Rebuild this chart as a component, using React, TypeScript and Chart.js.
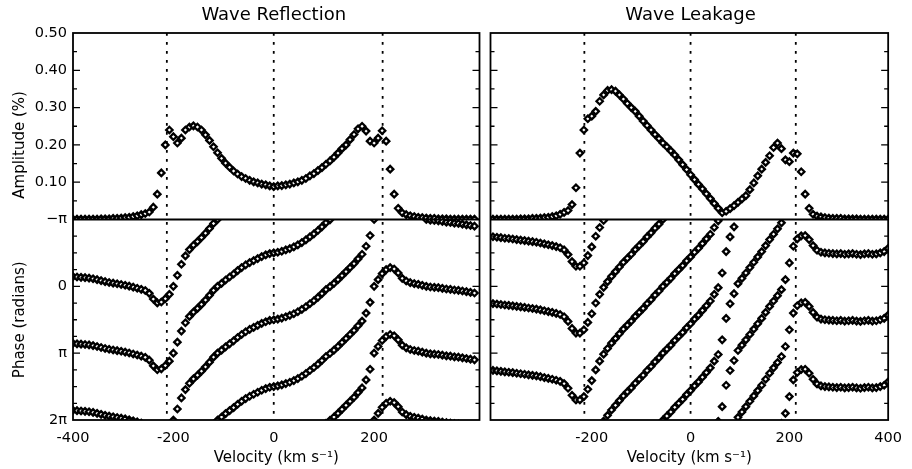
import React, { useEffect, useRef } from 'react';
import { Chart, registerables } from 'chart.js';

Chart.register(...registerables);

// Velocity samples (km/s)
const velocity = [
  -400, -392, -384, -376, -368, -360, -352, -344, -336, -328,
  -320, -312, -304, -296, -288, -280, -272, -264, -256, -248,
  -240, -232, -224, -216, -208, -200, -192, -184, -176, -168,
  -160, -152, -144, -136, -128, -120, -112, -104, -96, -88,
  -80, -72, -64, -56, -48, -40, -32, -24, -16, -8,
  0, 8, 16, 24, 32, 40, 48, 56, 64, 72,
  80, 88, 96, 104, 112, 120, 128, 136, 144, 152,
  160, 168, 176, 184, 192, 200, 208, 216, 224, 232,
  240, 248, 256, 264, 272, 280, 288, 296, 304, 312,
  320, 328, 336, 344, 352, 360, 368, 376, 384, 392,
  400,
];

// Wave Reflection amplitude (%)
const reflectionAmplitude = [
  0.001, 0.001, 0.001, 0.001, 0.001, 0.001, 0.001, 0.002, 0.002, 0.002,
  0.003, 0.003, 0.004, 0.005, 0.006, 0.008, 0.010, 0.013, 0.016, 0.020,
  0.033, 0.068, 0.125, 0.200, 0.240, 0.222, 0.205, 0.218, 0.240, 0.248,
  0.251, 0.248, 0.240, 0.227, 0.212, 0.195, 0.179, 0.164, 0.151, 0.140,
  0.130, 0.122, 0.115, 0.110, 0.105, 0.101, 0.098, 0.095, 0.093, 0.090,
  0.088, 0.090, 0.091, 0.093, 0.095, 0.098, 0.101, 0.105, 0.110, 0.117,
  0.123, 0.131, 0.139, 0.148, 0.157, 0.167, 0.178, 0.190, 0.200, 0.214,
  0.228, 0.243, 0.250, 0.237, 0.210, 0.205, 0.218, 0.238, 0.210, 0.135,
  0.068, 0.030, 0.018, 0.013, 0.010, 0.008, 0.006, 0.005, 0.004, 0.003,
  0.003, 0.002, 0.002, 0.002, 0.001, 0.001, 0.001, 0.001, 0.001, 0.001,
  0.001,
];

// Wave Reflection phase (units of pi, unwrapped)
const reflectionPhase = [
  -0.146, -0.140, -0.135, -0.130, -0.123, -0.113, -0.100, -0.085, -0.070, -0.058,
  -0.048, -0.038, -0.028, -0.016, -0.003, 0.012, 0.028, 0.045, 0.062, 0.105,
  0.190, 0.248, 0.235, 0.185, 0.120, 0.000, -0.165, -0.330, -0.455, -0.550,
  -0.615, -0.670, -0.730, -0.795, -0.865, -0.940, -1.000, -1.045, -1.095, -1.140,
  -1.185, -1.235, -1.280, -1.320, -1.355, -1.385, -1.415, -1.445, -1.470, -1.490,
  -1.500, -1.510, -1.525, -1.545, -1.565, -1.590, -1.620, -1.655, -1.695, -1.740,
  -1.785, -1.835, -1.890, -1.950, -1.995, -2.045, -2.100, -2.160, -2.220, -2.280,
  -2.340, -2.410, -2.480, -2.600, -2.760, -3.000, -3.100, -3.190, -3.250, -3.280,
  -3.260, -3.200, -3.120, -3.080, -3.055, -3.040, -3.030, -3.015, -3.000, -2.990,
  -2.985, -2.980, -2.970, -2.960, -2.955, -2.945, -2.940, -2.930, -2.920, -2.910,
  -2.900,
];

// Wave Leakage amplitude (%)
const leakageAmplitude = [
  0.001, 0.001, 0.001, 0.001, 0.001, 0.001, 0.001, 0.002, 0.002, 0.002,
  0.003, 0.003, 0.004, 0.005, 0.006, 0.008, 0.010, 0.014, 0.019, 0.024,
  0.040, 0.085, 0.178, 0.240, 0.270, 0.277, 0.290, 0.317, 0.334, 0.346,
  0.348, 0.344, 0.334, 0.323, 0.311, 0.300, 0.290, 0.277, 0.264, 0.252,
  0.240, 0.228, 0.217, 0.205, 0.195, 0.184, 0.173, 0.160, 0.147, 0.134,
  0.120, 0.107, 0.094, 0.082, 0.069, 0.056, 0.043, 0.030, 0.018, 0.022,
  0.029, 0.037, 0.046, 0.055, 0.064, 0.080, 0.098, 0.117, 0.135, 0.153,
  0.171, 0.193, 0.205, 0.190, 0.160, 0.155, 0.178, 0.176, 0.128, 0.068,
  0.030, 0.014, 0.009, 0.007, 0.005, 0.004, 0.003, 0.003, 0.003, 0.002,
  0.002, 0.002, 0.002, 0.001, 0.001, 0.001, 0.001, 0.001, 0.001, 0.001,
  0.001,
];

// Wave Leakage phase (units of pi, unwrapped)
const leakagePhase = [
  -0.742, -0.735, -0.728, -0.720, -0.715, -0.708, -0.700, -0.692, -0.685, -0.676,
  -0.668, -0.660, -0.648, -0.635, -0.622, -0.610, -0.595, -0.578, -0.545, -0.475,
  -0.370, -0.300, -0.300, -0.350, -0.460, -0.590, -0.750, -0.880, -0.985, -1.070,
  -1.150, -1.220, -1.290, -1.360, -1.420, -1.480, -1.550, -1.610, -1.670, -1.740,
  -1.800, -1.870, -1.930, -2.000, -2.060, -2.120, -2.190, -2.250, -2.310, -2.380,
  -2.440, -2.510, -2.570, -2.640, -2.710, -2.780, -2.880, -2.980, -3.200, -3.520,
  -3.740, -3.890, -4.040, -4.120, -4.200, -4.280, -4.360, -4.440, -4.520, -4.610,
  -4.700, -4.780, -4.860, -4.950, -5.100, -5.350, -5.600, -5.710, -5.755, -5.760,
  -5.700, -5.610, -5.540, -5.510, -5.500, -5.495, -5.490, -5.485, -5.490, -5.480,
  -5.485, -5.490, -5.480, -5.475, -5.485, -5.490, -5.480, -5.485, -5.500, -5.520,
  -5.570,
];

const amplitudeTickValues = [0.1, 0.2, 0.3, 0.4, 0.5];
const amplitudeTickMarks = [0.05, 0.1, 0.15, 0.2, 0.25, 0.3, 0.35, 0.4, 0.45];
const phaseTickValues = [-1, 0, 1, 2];
const phaseTickLabels = ['−π', '0', 'π', '2π'];
const phaseTickMarks = [-0.75, -0.5, -0.25, 0, 0.25, 0.5, 0.75, 1, 1.25, 1.5, 1.75];
const reflectionTickLabels = [-400, -200, 0, 200];
const leakageTickLabels = [-200, 0, 200, 400];
const reflectionGuides = [-213, 0, 217];
const leakageGuides = [-215, 0, 213];
const phaseWrapOffsets = [0, 1, 2, 3, 4, 5, 6, 7];

const FONT = 'DejaVu Sans';

type PanelCfg = {
  title: string;
  amplitude: number[];
  phase: number[];
  xMin: number;
  xMax: number;
  tickLabels: number[];
  guides: number[];
  showYAxis: boolean;
  padLeft: number;
  padRight: number;
};

function makeDecor(cfg: PanelCfg) {
  return {
    id: 'decor',
    beforeDatasetsDraw(chart: any) {
      const { ctx, chartArea } = chart;
      const xs = chart.scales.x;
      ctx.save();
      ctx.strokeStyle = '#000';
      ctx.lineWidth = 1.8;
      ctx.setLineDash([2.7, 6.3]);
      for (const g of cfg.guides) {
        const px = xs.getPixelForValue(g);
        ctx.beginPath();
        ctx.moveTo(px, chartArea.top);
        ctx.lineTo(px, chartArea.bottom);
        ctx.stroke();
      }
      ctx.restore();
    },
    afterDatasetsDraw(chart: any) {
      const { ctx, chartArea } = chart;
      const { left, right, top, bottom } = chartArea;
      const xs = chart.scales.x;
      const ya = chart.scales.yAmp;
      const yp = chart.scales.yPhase;
      ctx.save();
      ctx.strokeStyle = '#000';
      ctx.fillStyle = '#000';
      ctx.setLineDash([]);
      ctx.lineWidth = 1.8;
      ctx.strokeRect(left, top, right - left, bottom - top);
      const sep = ya.getPixelForValue(0);
      ctx.lineWidth = 2;
      ctx.beginPath();
      ctx.moveTo(left, sep);
      ctx.lineTo(right, sep);
      ctx.stroke();

      ctx.lineWidth = 1.3;
      const hTick = (py: number, len: number) => {
        ctx.beginPath();
        ctx.moveTo(left, py);
        ctx.lineTo(left + len, py);
        ctx.moveTo(right, py);
        ctx.lineTo(right - len, py);
        ctx.stroke();
      };
      for (const v of amplitudeTickMarks) {
        const major = Math.abs(v * 10 - Math.round(v * 10)) < 1e-6;
        hTick(ya.getPixelForValue(v), major ? 7 : 4);
      }
      for (const v of phaseTickMarks) {
        const major = Math.abs(v - Math.round(v)) < 1e-6;
        hTick(yp.getPixelForValue(v), major ? 7 : 4);
      }

      // panel title
      ctx.font = `18px "${FONT}"`;
      ctx.textAlign = 'center';
      ctx.textBaseline = 'middle';
      ctx.fillText(cfg.title, xs.getPixelForValue(0), 15);

      if (cfg.showYAxis) {
        ctx.font = `15px "${FONT}"`;
        const drawRot = (text: string, x: number, y: number) => {
          ctx.save();
          ctx.translate(x, y);
          ctx.rotate(-Math.PI / 2);
          ctx.fillText(text, 0, 0);
          ctx.restore();
        };
        drawRot('Amplitude (%)', 20, ya.getPixelForValue(0.2));
        drawRot('Phase (radians)', 20, (yp.top + yp.bottom) / 2);
      }
      ctx.restore();
    },
  };
}

function makeChart(canvas: HTMLCanvasElement, cfg: PanelCfg) {
  const marker = {
    pointStyle: 'rectRot',
    pointRadius: 3.2,
    pointHoverRadius: 3.2,
    pointBorderWidth: 2.3,
    pointBorderColor: '#000',
    pointBackgroundColor: '#fff',
    showLine: false,
  };
  const datasets: any[] = [
    {
      label: 'amplitude',
      data: velocity.map((v, i) => ({ x: v, y: cfg.amplitude[i] })),
      xAxisID: 'x',
      yAxisID: 'yAmp',
      ...marker,
    },
  ];
  phaseWrapOffsets.forEach((k) => {
    const pts = velocity
      .map((v, i) => ({ x: v, y: cfg.phase[i] + k }))
      .filter((p) => p.y >= -1 && p.y <= 2.06);
    if (pts.length) {
      datasets.push({ label: 'phase ' + k, data: pts, xAxisID: 'x', yAxisID: 'yPhase', ...marker });
    }
  });

  const tickFont = { family: FONT, size: 14.5 };
  const yCommon: any = {
    type: 'linear',
    position: 'left',
    stack: 'column',
    grid: { display: false, drawTicks: false },
    border: { display: false },
    afterFit: (s: any) => {
      s.width = cfg.showYAxis ? 73 : 0;
    },
  };

  return new Chart(canvas, {
    type: 'scatter',
    data: { datasets },
    plugins: [makeDecor(cfg)],
    options: {
      responsive: false,
      animation: false,
      devicePixelRatio: 1,
      events: [],
      layout: { padding: { top: 33, left: cfg.padLeft, right: cfg.padRight, bottom: 0 } },
      plugins: { legend: { display: false }, tooltip: { enabled: false }, title: { display: false } },
      scales: {
        x: {
          type: 'linear',
          position: 'bottom',
          min: cfg.xMin,
          max: cfg.xMax,
          grid: { display: false, drawTicks: false },
          border: { display: false },
          ticks: { color: '#000', font: tickFont, padding: 10, maxRotation: 0, autoSkip: false },
          afterBuildTicks: (s: any) => {
            s.ticks = cfg.tickLabels.map((v) => ({ value: v }));
          },
          title: {
            display: true,
            text: 'Velocity (km s⁻¹)',
            color: '#000',
            font: { family: FONT, size: 15 },
            padding: { top: 0, bottom: 2 },
          },
          afterFit: (s: any) => {
            s.height = 49;
          },
        },
        yPhase: {
          ...yCommon,
          min: -1,
          max: 2,
          reverse: true,
          stackWeight: 200.5,
          ticks: {
            display: cfg.showYAxis,
            color: '#000',
            font: tickFont,
            padding: 6,
            autoSkip: false,
            callback: (v: any) => {
              const idx = phaseTickValues.indexOf(Number(v));
              return idx >= 0 ? phaseTickLabels[idx] : '';
            },
          },
          afterBuildTicks: (s: any) => {
            s.ticks = phaseTickValues.map((v) => ({ value: v }));
          },
        },
        yAmp: {
          ...yCommon,
          min: 0,
          max: 0.5,
          stackWeight: 186.5,
          ticks: {
            display: cfg.showYAxis,
            color: '#000',
            font: tickFont,
            padding: 6,
            autoSkip: false,
            callback: (v: any) => Number(v).toFixed(2),
          },
          afterBuildTicks: (s: any) => {
            s.ticks = amplitudeTickValues.map((v) => ({ value: v }));
          },
        },
      },
    } as any,
  });
}

export default function App() {
  const leftRef = useRef<HTMLCanvasElement>(null);
  const rightRef = useRef<HTMLCanvasElement>(null);

  useEffect(() => {
    const left = makeChart(leftRef.current!, {
      title: 'Wave Reflection',
      amplitude: reflectionAmplitude,
      phase: reflectionPhase,
      xMin: -400,
      xMax: 410,
      tickLabels: reflectionTickLabels,
      guides: reflectionGuides,
      showYAxis: true,
      padLeft: 0,
      padRight: 2,
    });
    const right = makeChart(rightRef.current!, {
      title: 'Wave Leakage',
      amplitude: leakageAmplitude,
      phase: leakagePhase,
      xMin: -405,
      xMax: 400,
      tickLabels: leakageTickLabels,
      guides: leakageGuides,
      showYAxis: false,
      padLeft: 2,
      padRight: 19,
    });
    return () => {
      left.destroy();
      right.destroy();
    };
  }, []);

  return (
    <div style={{ position: 'fixed', left: 0, top: 0, width: 912, height: 469, background: '#fff', overflow: 'hidden' }}>
      <canvas ref={leftRef} width={485} height={469} style={{ position: 'absolute', left: 0, top: 0, width: 485, height: 469 }} />
      <canvas ref={rightRef} width={427} height={469} style={{ position: 'absolute', left: 485, top: 0, width: 427, height: 469 }} />
    </div>
  );
}
